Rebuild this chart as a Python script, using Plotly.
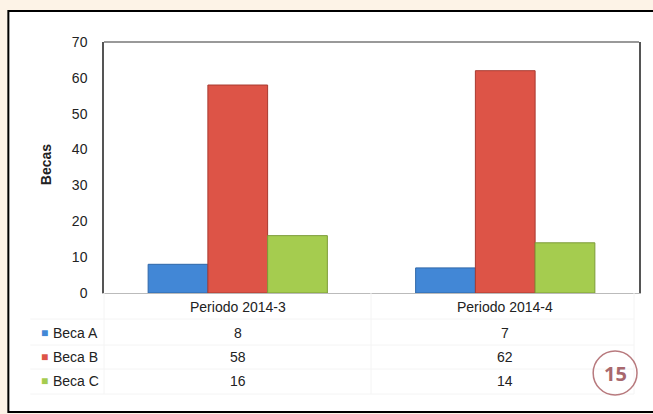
import plotly.graph_objects as go

# data
periods = ['Periodo 2014-3', 'Periodo 2014-4']
series_names = ['Beca A', 'Beca B', 'Beca C']
beca_a = [8, 7]
beca_b = [58, 62]
beca_c = [16, 14]
y_ticks = [0, 10, 20, 30, 40, 50, 60, 70]

values = [beca_a, beca_b, beca_c]
colors = ['#4287d6', '#dd5447', '#a5cc4f']
edges = ['#2f67a8', '#a83a30', '#7c9c38']

W, H = 653, 414
ML, MR, MT, MB = 104, 12, 42, 121
PW = W - ML - MR
PH = H - MT - MB


def px(x):
    # pixel x -> paper x
    return (x - ML) / PW


def py(y):
    # pixel y -> paper y
    return (H - MB - y) / PH


fig = go.Figure()
for name, vals, c, e in zip(series_names, values, colors, edges):
    fig.add_trace(go.Bar(x=periods, y=vals, name=name,
                         marker=dict(color=c, line=dict(color=e, width=1))))

shapes = []
# white card with black border
shapes.append(dict(type='rect', xref='paper', yref='paper', layer='below',
                   x0=px(8), x1=px(662), y0=py(412), y1=py(11),
                   fillcolor='white', line=dict(color='black', width=2)))
# top line of plot frame
shapes.append(dict(type='line', xref='paper', yref='paper',
                   x0=0, x1=1, y0=1, y1=1, line=dict(color='#777', width=1.5)))
# faint data-table grid
for yy in [319, 345, 369, 394]:
    shapes.append(dict(type='line', xref='paper', yref='paper',
                       x0=px(30), x1=px(636), y0=py(yy), y1=py(yy),
                       line=dict(color='#f4f4f4', width=1)))
for xx in [104, 372, 636]:
    shapes.append(dict(type='line', xref='paper', yref='paper',
                       x0=px(xx), x1=px(xx), y0=py(293), y1=py(394),
                       line=dict(color='#f4f4f4', width=1)))
# page number circle
shapes.append(dict(type='circle', xref='paper', yref='paper',
                   x0=px(595), x1=px(639), y0=py(395), y1=py(351),
                   line=dict(color='#b87a7e', width=1.5)))

font = 'Arial, Liberation Sans, sans-serif'
txt = dict(color='#222', family=font, size=14)
annotations = []
row_y = [333, 357, 381]
for p in periods:
    annotations.append(dict(x=p, xref='x', y=py(307), yref='paper', text=p,
                            xanchor='center', yanchor='middle',
                            showarrow=False, font=txt))
for name, vals, c, yy in zip(series_names, values, colors, row_y):
    annotations.append(dict(x=px(39), xref='paper', y=py(yy), yref='paper', text='■',
                            xanchor='left', yanchor='middle', showarrow=False,
                            font=dict(size=12, color=c, family=font)))
    annotations.append(dict(x=px(51), xref='paper', y=py(yy), yref='paper', text=name,
                            xanchor='left', yanchor='middle', showarrow=False, font=txt))
    for p, v in zip(periods, vals):
        annotations.append(dict(x=p, xref='x', y=py(yy), yref='paper', text=str(v),
                                xanchor='center', yanchor='middle',
                                showarrow=False, font=txt))
annotations.append(dict(x=px(46), xref='paper', y=py(165), yref='paper', text='<b>Becas</b>',
                        textangle=-90, xanchor='center', yanchor='middle', showarrow=False,
                        font=txt))
annotations.append(dict(x=px(617), xref='paper', y=py(373), yref='paper', text='<b>15</b>',
                        xanchor='center', yanchor='middle', showarrow=False,
                        font=dict(size=20, color='#a8686d', family='Open Sans')))

fig.update_layout(
    width=W, height=H,
    margin=dict(l=ML, r=MR, t=MT, b=MB),
    paper_bgcolor='#fdf3e7',
    plot_bgcolor='white',
    barmode='group',
    bargap=0.33,
    bargroupgap=0,
    showlegend=False,
    font=dict(family=font, size=14, color='#222'),
    xaxis=dict(showticklabels=False, showline=True, linecolor='#bbb', linewidth=1,
               showgrid=False, zeroline=False, fixedrange=True),
    yaxis=dict(range=[0, 70], tickvals=y_ticks, showgrid=False, zeroline=False,
               showline=True, linecolor='#555', linewidth=1.5, mirror=True,
               ticklabelstandoff=12, tickfont=dict(size=14, color='#222')),
    shapes=shapes,
    annotations=annotations,
)

# drop the default page margin so the figure sits at the window's corner
fig.write_html('out.html', config={'displayModeBar': False},
               post_script="document.body.style.margin='0px';")
